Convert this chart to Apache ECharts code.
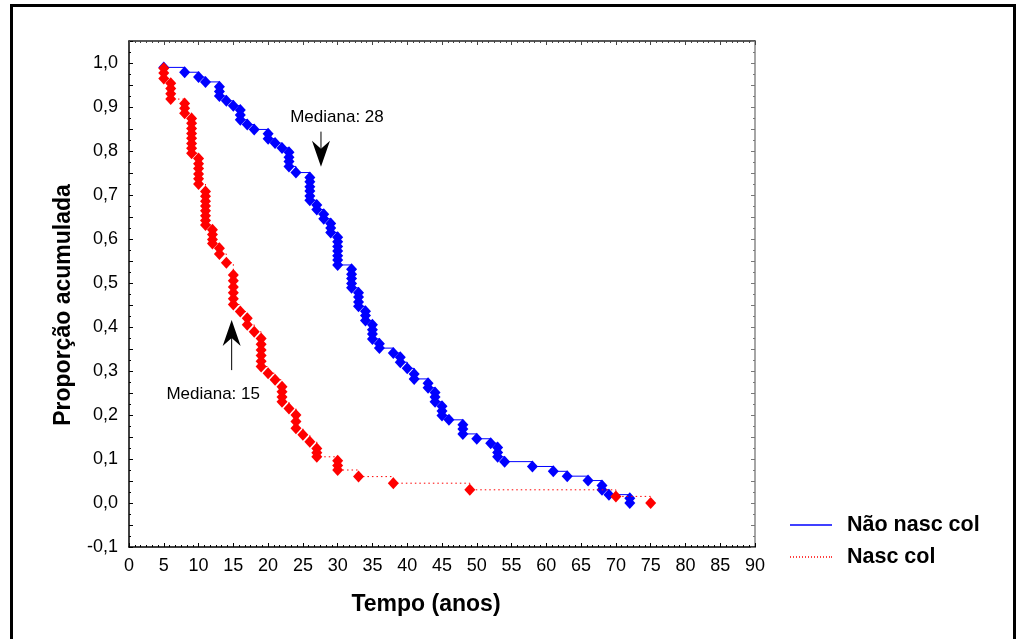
<!DOCTYPE html>
<html>
<head>
<meta charset="utf-8">
<script src="https://cdn.jsdelivr.net/npm/echarts@6/dist/echarts.min.js"></script>
<style>
html,body{margin:0;padding:0;background:#fff;}
#chart{width:1023px;height:639px;}
</style>
</head>
<body>
<div id="chart"></div>
<script>
// ---- Data ----
var naoTempo = [5,8,10,11,13,13,13,14,15,16,16,16,17,18,20,20,21,22,23,23,23,23,24,26,26,26,26,26,26,27,27,28,28,29,29,29,30,30,30,30,30,30,30,32,32,32,32,32,33,33,33,33,34,34,34,35,35,35,35,36,36,38,39,39,40,41,41,43,43,44,44,44,45,45,45,46,48,48,48,50,52,53,53,53,54,58,61,63,66,68,68,69,72,72];
var naoProp = [0.990,0.979,0.968,0.957,0.946,0.935,0.925,0.914,0.903,0.893,0.882,0.871,0.860,0.849,0.839,0.828,0.818,0.807,0.797,0.786,0.776,0.765,0.751,0.740,0.730,0.719,0.709,0.698,0.688,0.677,0.667,0.656,0.646,0.635,0.625,0.615,0.604,0.594,0.583,0.573,0.562,0.552,0.541,0.531,0.520,0.510,0.499,0.489,0.478,0.468,0.457,0.447,0.436,0.426,0.415,0.405,0.394,0.384,0.373,0.362,0.352,0.341,0.331,0.320,0.306,0.293,0.282,0.272,0.262,0.251,0.241,0.230,0.220,0.209,0.199,0.189,0.178,0.168,0.157,0.146,0.136,0.126,0.115,0.105,0.094,0.083,0.072,0.061,0.051,0.040,0.030,0.019,0.011,0.000];

var nascTempo = [5,5,5,6,6,6,6,8,8,8,9,9,9,9,9,9,9,9,10,10,10,10,10,10,11,11,11,11,11,11,11,11,12,12,12,12,13,13,14,15,15,15,15,15,15,16,17,17,18,19,19,19,19,19,19,20,21,22,22,22,22,23,24,24,24,25,26,27,27,27,30,30,30,33,38,49,70,75];
var nascProp = [0.988,0.977,0.965,0.954,0.942,0.930,0.918,0.908,0.897,0.886,0.874,0.863,0.851,0.840,0.829,0.817,0.806,0.795,0.783,0.771,0.760,0.748,0.737,0.725,0.708,0.697,0.686,0.675,0.664,0.653,0.642,0.632,0.621,0.610,0.599,0.590,0.579,0.566,0.546,0.518,0.505,0.491,0.478,0.464,0.451,0.435,0.420,0.405,0.389,0.374,0.361,0.348,0.335,0.322,0.310,0.295,0.280,0.264,0.253,0.241,0.230,0.215,0.200,0.185,0.170,0.155,0.139,0.124,0.114,0.105,0.096,0.085,0.075,0.060,0.045,0.030,0.015,0.000];

var seriesNames = ['Não nasc col', 'Nasc col'];

// Median annotations (data coordinates)
var medianLabels = ['Mediana: 28', 'Mediana: 15'];
var medianX      = [27.6, 14.76];
var medianTail   = [0.844, 0.302];
var medianTip    = [0.764, 0.416];
var medianLabelX = [29.9, 12.1];
var medianLabelY = [0.876, 0.248];

// x ticks 0..90 step 5 ; y ticks -0.1..1.0 step 0.1 (minor every 0.05)
var xMin = 0, xMax = 90, xStep = 5;
var yMin = -0.1, yMax = 1.05, yStep = 0.05;

function zip(a, b) { return a.map(function (v, i) { return [v, b[i]]; }); }

var FONT = "'Liberation Sans', Arial, sans-serif";
var chart = echarts.init(document.getElementById('chart'), null, {renderer: 'canvas'});

function yLabel(v) {
  var k = v * 10;
  if (Math.abs(k - Math.round(k)) > 1e-6) return '';
  return (Math.round(k) / 10).toFixed(1).replace('.', ',').replace('-0,0', '0,0');
}

var annoData = medianX.map(function (x, i) {
  return [x, medianTail[i], medianTip[i], medianLabelX[i], medianLabelY[i]];
});

var option = {
  animation: false,
  backgroundColor: '#fff',
  textStyle: {fontFamily: FONT},
  grid: {left: 129, top: 41, right: 268, bottom: 92, containLabel: false},
  graphic: [{
    type: 'rect', silent: true, z: -10,
    shape: {x: 11.5, y: 5.5, width: 1003, height: 700},
    style: {fill: 'none', stroke: '#000', lineWidth: 3}
  }],
  legend: {
    orient: 'vertical',
    left: 785, top: 507,
    itemWidth: 42, itemHeight: 1.5, itemGap: 6,
    selectedMode: false,
    textStyle: {fontFamily: FONT, fontSize: 21.5, fontWeight: 'bold', color: '#000', lineHeight: 26, padding: [0, 0, 0, 10]},
    data: [
      {name: seriesNames[0], icon: 'path://M0,0h42v1.5h-42z'},
      {name: seriesNames[1], icon: 'path://M0,0h1v1.5h-1zM3,0h1v1.5h-1zM6,0h1v1.5h-1zM9,0h1v1.5h-1zM12,0h1v1.5h-1zM15,0h1v1.5h-1zM18,0h1v1.5h-1zM21,0h1v1.5h-1zM24,0h1v1.5h-1zM27,0h1v1.5h-1zM30,0h1v1.5h-1zM33,0h1v1.5h-1zM36,0h1v1.5h-1zM39,0h1v1.5h-1zM41,0h1v1.5h-1z'}
    ]
  },
  xAxis: [{
    type: 'value', position: 'bottom', min: xMin, max: xMax, interval: xStep,
    name: 'Tempo (anos)', nameLocation: 'middle', nameGap: 46,
    nameTextStyle: {fontFamily: FONT, fontSize: 23, fontWeight: 'bold', color: '#000', padding: [0, 32, 0, 0]},
    axisLine: {show: true, onZero: false, lineStyle: {color: '#000', width: 1.5}},
    axisTick: {show: true, inside: true, length: 4, lineStyle: {color: '#000'}},
    minorTick: {show: true, splitNumber: 6, length: 2, lineStyle: {color: '#000'}},
    axisLabel: {fontFamily: FONT, fontSize: 18, color: '#000', margin: 10},
    splitLine: {show: false}
  }, {
    type: 'value', position: 'top', min: xMin, max: xMax, interval: xStep,
    axisLine: {show: true, onZero: false, lineStyle: {color: '#222', width: 1.5}},
    axisTick: {show: true, inside: true, length: 4, lineStyle: {color: '#444'}},
    minorTick: {show: true, splitNumber: 6, length: 2, lineStyle: {color: '#444'}},
    axisLabel: {show: false},
    splitLine: {show: false}
  }],
  yAxis: [{
    type: 'value', position: 'left', min: yMin, max: yMax, interval: yStep,
    name: 'Proporção acumulada', nameLocation: 'middle', nameGap: 54,
    nameTextStyle: {fontFamily: FONT, fontSize: 23, fontWeight: 'bold', color: '#000', padding: [0, 22, 0, 0]},
    axisLine: {show: true, onZero: false, lineStyle: {color: '#000', width: 1.5}},
    axisTick: {show: true, inside: true, length: 4, lineStyle: {color: '#000'}},
    minorTick: {show: true, splitNumber: 2, length: 2, lineStyle: {color: '#000'}},
    axisLabel: {fontFamily: FONT, fontSize: 18, color: '#000', margin: 11, formatter: yLabel},
    splitLine: {show: false}
  }, {
    type: 'value', position: 'right', min: yMin, max: yMax, interval: yStep,
    axisLine: {show: true, onZero: false, lineStyle: {color: '#888', width: 1.5}},
    axisTick: {show: true, inside: true, length: 4, lineStyle: {color: '#777'}},
    minorTick: {show: true, splitNumber: 2, length: 2, lineStyle: {color: '#777'}},
    axisLabel: {show: false},
    splitLine: {show: false}
  }],
  series: [{
    name: seriesNames[0], type: 'line', step: 'end',
    xAxisIndex: 0, yAxisIndex: 0,
    data: zip(naoTempo, naoProp),
    symbol: 'diamond', symbolSize: [11, 12], showSymbol: true, showAllSymbol: true,
    itemStyle: {color: '#0000ff'},
    lineStyle: {color: '#0000ff', width: 1},
    z: 2
  }, {
    name: seriesNames[1], type: 'line', step: 'end',
    xAxisIndex: 0, yAxisIndex: 0,
    data: zip(nascTempo, nascProp),
    symbol: 'diamond', symbolSize: [11, 12], showSymbol: true, showAllSymbol: true,
    itemStyle: {color: '#ff0000'},
    lineStyle: {color: '#ff0000', width: 1, type: [1.5, 3]},
    z: 3
  }, {
    type: 'custom', xAxisIndex: 0, yAxisIndex: 0, clip: false, z: 5,
    data: annoData,
    renderItem: function (params, api) {
      var i = params.dataIndex;
      var tail = api.coord([api.value(0), api.value(1)]);
      var tip = api.coord([api.value(0), api.value(2)]);
      var lab = api.coord([api.value(3), api.value(4)]);
      var dir = tip[1] > tail[1] ? 1 : -1;
      var L = 26, W = 9, N = 18;
      return {
        type: 'group',
        children: [{
          type: 'line',
          shape: {x1: tail[0], y1: tail[1], x2: tip[0], y2: tip[1] - dir * N},
          style: {stroke: '#000', lineWidth: 1}
        }, {
          type: 'polygon',
          shape: {points: [
            [tip[0], tip[1]],
            [tip[0] - W, tip[1] - dir * L],
            [tip[0], tip[1] - dir * N],
            [tip[0] + W, tip[1] - dir * L]
          ]},
          style: {fill: '#000'}
        }, {
          type: 'text',
          x: lab[0], y: lab[1],
          style: {text: medianLabels[i], fontFamily: FONT, fontSize: 17, fill: '#000', align: 'center', verticalAlign: 'middle'}
        }]
      };
    }
  }]
};
chart.setOption(option);
</script>
</body>
</html>
